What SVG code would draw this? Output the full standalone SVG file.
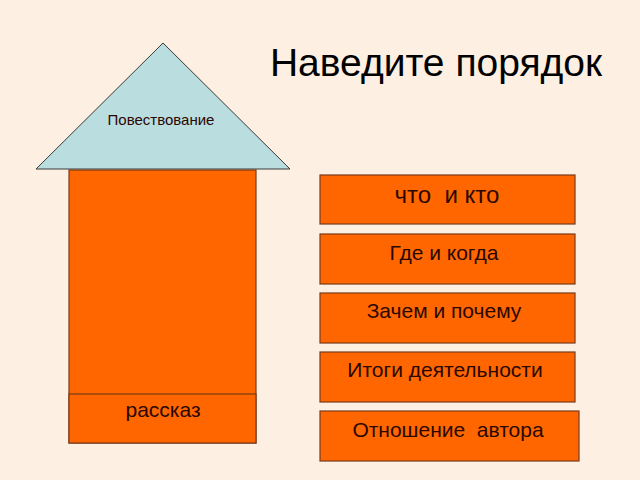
<svg xmlns="http://www.w3.org/2000/svg" width="640" height="480" viewBox="0 0 640 480">
<style>
.box{fill:#FF6600;stroke:#7A3A1A;stroke-width:1.2}
.t{font-family:"Liberation Sans",Arial,sans-serif;fill:#2A0800;text-anchor:middle}
</style>
<rect width="640" height="480" fill="#FDEFE1"/>
<text x="436" y="76" font-family="Liberation Sans,Arial,sans-serif" font-size="39" fill="#000" text-anchor="middle">Наведите порядок</text>
<g id="roof">
<polygon points="163,43 290,169 36,169" fill="#BADDE0" stroke="#3A3A3A" stroke-width="1"/>
<text class="t" x="161" y="125" font-size="15" fill="#222">Повествование</text>
</g>
<g id="house">
<rect class="box" x="69" y="170" width="187" height="273"/>
</g>
<g id="rasskaz">
<rect class="box" x="69" y="394" width="187" height="49"/>
<text class="t" x="163" y="417" font-size="21">рассказ</text>
</g>
<g id="b1">
<rect class="box" x="320" y="175" width="255" height="49"/>
<text class="t" x="447" y="203" font-size="24" xml:space="preserve">что  и кто</text>
</g>
<g id="b2">
<rect class="box" x="320" y="234" width="255" height="50"/>
<text class="t" x="444" y="260" font-size="21">Где и когда</text>
</g>
<g id="b3">
<rect class="box" x="320" y="293" width="255" height="50"/>
<text class="t" x="444" y="318" font-size="21">Зачем и почему</text>
</g>
<g id="b4">
<rect class="box" x="320" y="352" width="255" height="50"/>
<text class="t" x="445" y="377" font-size="21">Итоги деятельности</text>
</g>
<g id="b5">
<rect class="box" x="320" y="411" width="259" height="50"/>
<text class="t" x="448" y="437" font-size="21" xml:space="preserve">Отношение  автора</text>
</g>
<g id="connectors"/>
</svg>
